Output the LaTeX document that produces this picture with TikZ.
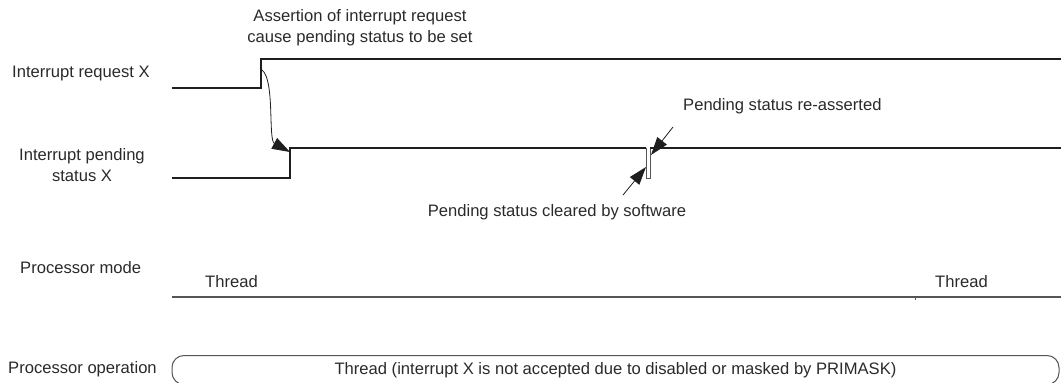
\documentclass[tikz,border=0pt]{standalone}
\usepackage{fontspec}
\setmainfont{Liberation Sans}
\usetikzlibrary{arrows.meta}
\definecolor{txt}{HTML}{2A2A2A}
\definecolor{ln}{HTML}{1E1E1E}
\definecolor{gl}{HTML}{555555}
\begin{document}
\begin{tikzpicture}[x=1pt,y=-1pt,
  lbl/.style={font=\fontsize{16.6}{21}\selectfont,text=txt,inner sep=0pt,align=center},
  wave/.style={draw=ln,line width=1.1pt},
  callout/.style={draw=ln,line width=0.8pt,-{Triangle[length=18pt,width=12pt]}},
  opbox/.style={draw=gl,line width=1pt,rounded corners=12pt,minimum width=887pt,minimum height=29pt,inner sep=0pt,font=\fontsize{16.6}{21}\selectfont,text=txt}]
\useasboundingbox (0,0) rectangle (1061,383);
% labels
\node[lbl] (assert) at (360,28) {Assertion of interrupt request\\cause pending status to be set};
\node[lbl,anchor=west] (irq) at (12,74) {Interrupt request X};
\node[lbl] (pend) at (82,165) {Interrupt pending\\status X};
\node[lbl,anchor=west] (reas) at (683,106) {Pending status re-asserted};
\node[lbl] (clr) at (557,212) {Pending status cleared by software};
\node[lbl,anchor=west] (pmode) at (20,268) {Processor mode};
\node[lbl,anchor=west] (th1) at (205,282) {Thread};
\node[lbl,anchor=west] (th2) at (935,282) {Thread};
\node[lbl,anchor=west] (pop) at (8,369) {Processor operation};
% waveforms
\coordinate (r0) at (172,88);
\coordinate (rup) at (261,88);
\coordinate (rhi) at (261,59);
\coordinate (rend) at (1061,59);
\draw[wave] (r0) -- (rup) -- (rhi) -- (rend);
\coordinate (p0) at (172,178);
\coordinate (pup) at (290,178);
\coordinate (phi) at (290,148);
\coordinate (pc1) at (646,148);
\coordinate (pc2) at (646,178);
\coordinate (pc3) at (650,178);
\coordinate (pc4) at (650,148);
\coordinate (pend2) at (1061,148);
\draw[wave] (p0) -- (pup) -- (phi) -- (pc1);
\draw[gl,line width=0.9pt] (pc1) -- (pc2) -- (pc3) -- (pc4);
\draw[wave] (pc4) -- (pend2);
% processor mode
\coordinate (m0) at (172,297);
\coordinate (m1) at (1061,297);
\coordinate (mt) at (915,297);
\coordinate (mtb) at (915,300);
\draw[gl,line width=1.1pt] (m0) -- (m1);
\draw[gl,line width=0.6pt] (mt) -- (mtb);
% processor operation
\node[opbox] (opb) at (615.5,370) {Thread (interrupt X is not accepted due to disabled or masked by PRIMASK)};
% callouts
\coordinate (cs) at (262,70);
\coordinate (ce) at (290,152);
\draw[callout] (cs) .. controls (275,80) and (268,140) .. (ce);
\coordinate (ct) at (623,195);
\coordinate (ch) at (646,167);
\draw[callout] (ct) -- (ch);
\coordinate (rt) at (673,127);
\coordinate (rh) at (651,155);
\draw[callout] (rt) -- (rh);
\end{tikzpicture}
\end{document}
